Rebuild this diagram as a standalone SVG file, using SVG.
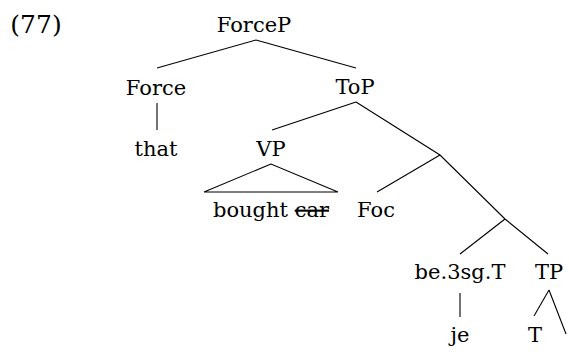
<svg xmlns="http://www.w3.org/2000/svg" width="569" height="352" viewBox="0 0 569 352">
<style>
text{font-family:"DejaVu Serif",serif;font-size:21px;fill:#000;text-anchor:middle}
.e line,.e polyline,.e polygon{stroke:#000;stroke-width:1.1;fill:none}
.s{text-decoration:line-through}
</style>
<rect width="569" height="352" fill="#fff"/>
<text x="36" y="33" style="font-size:25px">(77)</text>
<g class="e" id="edges">
<line x1="256" y1="40" x2="157" y2="68"/>
<line x1="256" y1="40" x2="356" y2="68"/>
<line x1="157" y1="103" x2="157" y2="130"/>
<line x1="356" y1="102" x2="272" y2="130"/>
<polyline points="356,102 440,155 505,219 548,254"/>
<line x1="440" y1="155" x2="377" y2="192"/>
<line x1="505" y1="219" x2="460" y2="254"/>
<polygon points="271,164 204,192 338,192"/>
<line x1="460" y1="293" x2="460" y2="317"/>
<line x1="549" y1="290" x2="534" y2="316"/>
<line x1="549" y1="290" x2="566" y2="334"/>
</g>
<g id="ForceP"><text x="254" y="32">ForceP</text></g>
<g id="Force"><text x="156" y="95">Force</text></g>
<g id="ToP"><text x="355" y="94">ToP</text></g>
<g id="that"><text x="156" y="156">that</text></g>
<g id="VP"><text x="271" y="156">VP</text></g>
<g id="boughtcar"><text x="271" y="217">bought <tspan class="s">car</tspan></text></g>
<g id="Foc"><text x="376" y="217">Foc</text></g>
<g id="be3sgT"><text x="460" y="279">be.3sg.T</text></g>
<g id="TP"><text x="549" y="279">TP</text></g>
<g id="je"><text x="460" y="342">je</text></g>
<g id="T"><text x="535" y="342">T</text></g>
</svg>
